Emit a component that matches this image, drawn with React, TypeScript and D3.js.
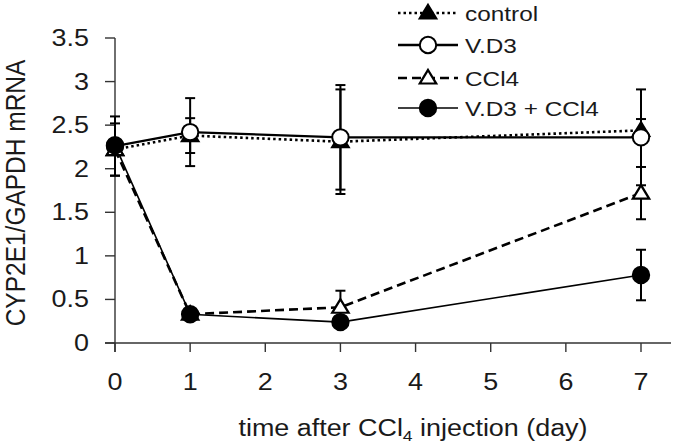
import React from "react";
import * as d3 from "d3";

// days sampled
const days = [0, 1, 3, 7];

// mean CYP2E1/GAPDH mRNA per group
const control = [2.22, 2.38, 2.31, 2.44];
const vd3 = [2.26, 2.42, 2.36, 2.36];
const ccl4 = [2.22, 0.33, 0.41, 1.72];
const vd3ccl4 = [2.27, 0.33, 0.24, 0.78];

// error bar half-lengths
const controlErr = [0.05, 0.2, 0.6, 0.13];
const vd3Err = [0.34, 0.39, 0.6, 0.55];
const ccl4Err = [0.3, 0.05, 0.19, 0.3];
const vd3ccl4Err = [0.05, 0.05, 0.05, 0.29];

const xTicks = [0, 1, 2, 3, 4, 5, 6, 7];
const yTicks = [0, 0.5, 1, 1.5, 2, 2.5, 3, 3.5];

const labels = ["control", "V.D3", "CCl4", "V.D3 + CCl4"];

const W = 675;
const H = 445;
const x = d3.scaleLinear().domain([0, 7]).range([115, 641]);
const y = d3.scaleLinear().domain([0, 3.5]).range([343, 38]);

const FONT = "'Liberation Sans', Arial, sans-serif";

type Series = {
  name: string;
  values: number[];
  err: number[];
  dash: string;
  width: number;
  marker: "tri" | "circle";
  filled: boolean;
};

const series: Series[] = [
  { name: labels[0], values: control, err: controlErr, dash: "2.5 3", width: 2.6, marker: "tri", filled: true },
  { name: labels[1], values: vd3, err: vd3Err, dash: "", width: 2.4, marker: "circle", filled: false },
  { name: labels[2], values: ccl4, err: ccl4Err, dash: "9 5", width: 2.6, marker: "tri", filled: false },
  { name: labels[3], values: vd3ccl4, err: vd3ccl4Err, dash: "", width: 1.6, marker: "circle", filled: true },
];

const Marker = ({ cx, cy, s }: { cx: number; cy: number; s: Series }) => {
  const fill = s.filled ? "#000" : "#fff";
  if (s.marker === "circle") {
    return <circle cx={cx} cy={cy} r={8.2} fill={fill} stroke="#000" strokeWidth={2} />;
  }
  const tri = d3.symbol().type(d3.symbolTriangle).size(105)();
  return (
    <path
      d={tri || ""}
      transform={`translate(${cx},${cy + 1}) scale(1.05,1)`}
      fill={fill}
      stroke="#000"
      strokeWidth={2.2}
    />
  );
};

// text slightly stretched sideways, as in the picture
const Txt = ({ tx, ty, anchor, fs = 23, sx = 1.17, children }: any) => (
  <text
    transform={`translate(${tx},${ty}) scale(${sx},1)`}
    textAnchor={anchor}
    fontFamily={FONT}
    fontSize={fs}
    fill="#1a1a1a"
  >
    {children}
  </text>
);

export default function App() {
  const line = d3
    .line<number>()
    .x((_, i) => x(days[i]))
    .y((d) => y(d));

  return (
    <svg width={W} height={H} style={{ position: "absolute", left: 0, top: 0, background: "#fff" }}>
      {/* axes */}
      <line x1={105} x2={671} y1={y(0)} y2={y(0)} stroke="#333" strokeWidth={1.4} />
      <line x1={x(0)} x2={x(0)} y1={y(3.5)} y2={352} stroke="#333" strokeWidth={1.4} />
      {yTicks.map((t) => (
        <g key={"y" + t}>
          <line x1={105} x2={x(0)} y1={y(t)} y2={y(t)} stroke="#333" strokeWidth={1.4} />
          <Txt tx={89} ty={y(t) + 8} anchor="end">
            {t}
          </Txt>
        </g>
      ))}
      {xTicks.map((t) => (
        <g key={"x" + t}>
          <line x1={x(t)} x2={x(t)} y1={y(0)} y2={352} stroke="#333" strokeWidth={1.4} />
          <Txt tx={x(t)} ty={390} anchor="middle">
            {t}
          </Txt>
        </g>
      ))}

      {/* axis titles */}
      <Txt tx={413} ty={436} anchor="middle">
        time after CCl<tspan fontSize={15} dy={5}>4</tspan>
        <tspan dy={-5}> injection (day)</tspan>
      </Txt>
      <text
        transform={`translate(25,193) scale(1.13,1) rotate(-90)`}
        textAnchor="middle"
        fontFamily={FONT}
        fontSize={24.5}
        fill="#1a1a1a"
      >
        CYP2E1/GAPDH mRNA
      </text>

      {/* error bars */}
      {series.map((s) =>
        s.values.map((v, i) => {
          const cx = x(days[i]);
          const top = y(v + s.err[i]);
          const bot = y(v - s.err[i]);
          return (
            <g key={s.name + "e" + i} stroke="#000" strokeWidth={2}>
              <line x1={cx} x2={cx} y1={top} y2={bot} />
              <line x1={cx - 5} x2={cx + 5} y1={top} y2={top} />
              <line x1={cx - 5} x2={cx + 5} y1={bot} y2={bot} />
            </g>
          );
        })
      )}

      {/* lines */}
      {series.map((s) => (
        <path
          key={s.name + "l"}
          d={line(s.values) || ""}
          fill="none"
          stroke="#000"
          strokeWidth={s.width}
          strokeDasharray={s.dash || undefined}
        />
      ))}

      {/* markers */}
      {series.map((s) =>
        s.values.map((v, i) => <Marker key={s.name + "m" + i} cx={x(days[i])} cy={y(v)} s={s} />)
      )}

      {/* legend */}
      {series.map((s, i) => {
        const ly = [13, 45, 78, 108][i];
        return (
          <g key={s.name + "lg"}>
            <line
              x1={398}
              x2={458}
              y1={ly}
              y2={ly}
              stroke="#000"
              strokeWidth={s.width}
              strokeDasharray={s.dash || undefined}
            />
            <Marker cx={428} cy={ly} s={s} />
            <Txt tx={465} ty={ly + 7.5} anchor="start" fs={21} sx={1.16}>
              {s.name}
            </Txt>
          </g>
        );
      })}
    </svg>
  );
}
